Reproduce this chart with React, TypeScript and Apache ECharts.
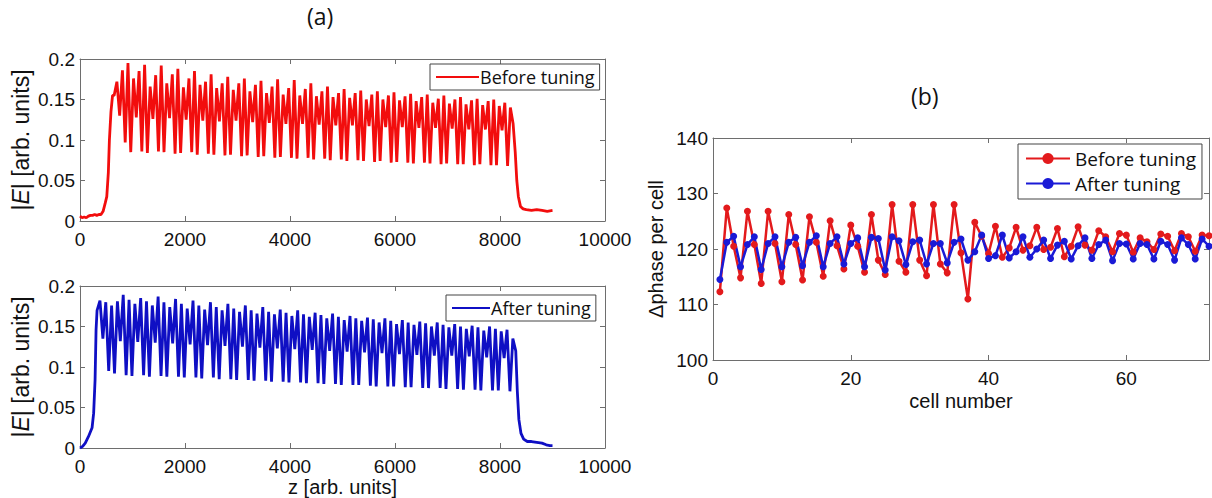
import React, { useEffect, useRef } from "react";
import * as echarts from "echarts";

// ---------- (b) phase advance per cell ----------
const cellNumbers = [
  1, 2, 3, 4, 5, 6, 7, 8, 9, 10, 11, 12, 13, 14, 15, 16, 17, 18, 19, 20, 21, 22, 23, 24,
  25, 26, 27, 28, 29, 30, 31, 32, 33, 34, 35, 36, 37, 38, 39, 40, 41, 42, 43, 44, 45, 46, 47, 48,
  49, 50, 51, 52, 53, 54, 55, 56, 57, 58, 59, 60, 61, 62, 63, 64, 65, 66, 67, 68, 69, 70, 71, 72,
];
const phaseBefore = [
  112.3, 127.4, 120.5, 114.8, 126.8, 120.8, 113.8, 126.8, 121.0, 114.1,
  126.2, 120.8, 114.4, 125.8, 121.2, 115.1, 125.1, 120.6, 116.4, 124.3,
  120.5, 115.8, 126.2, 118.0, 115.4, 128.0, 117.8, 115.8, 128.0, 118.0,
  115.2, 128.0, 117.3, 115.7, 128.0, 119.3, 111.0, 124.8, 122.3, 119.2,
  124.1, 118.5, 120.2, 123.9, 119.8, 120.6, 123.9, 119.9, 120.3, 123.7,
  118.6, 120.5, 124.0, 120.7, 119.8, 123.3, 122.2, 119.5, 122.8, 122.5,
  119.4, 122.0, 121.3, 119.9, 122.7, 122.3, 119.7, 122.8, 122.2, 119.6,
  122.5, 122.4,
];
const phaseAfter = [
  114.5, 121.2, 122.3, 116.8, 120.8, 122.2, 116.3, 121.0, 122.2, 116.8,
  121.2, 122.1, 117.0, 121.2, 122.4, 116.8, 121.0, 122.2, 117.3, 121.0,
  122.0, 116.8, 122.1, 121.9, 116.2, 122.2, 121.5, 117.2, 121.3, 121.6,
  117.3, 121.0, 121.0, 117.5, 121.2, 121.8, 118.0, 119.5, 122.5, 118.3,
  118.8, 122.5, 118.4, 119.5, 122.2, 118.5, 120.0, 121.6, 118.3, 120.7,
  121.4, 118.2, 120.6, 122.0, 118.3, 120.8, 121.6, 117.9, 121.0, 120.9,
  118.2, 121.0, 120.8, 118.2, 121.4, 120.8, 118.0, 122.0, 120.8, 118.2,
  121.8, 120.5,
];

// ---------- (a) field amplitude |E| along z ----------
// Before tuning
const redLeadZ = [0, 40, 80, 120, 160, 200, 240, 280, 320, 360, 400, 440, 480, 510, 540, 560, 590, 620];
const redLeadE = [0.006, 0.004, 0.005, 0.004, 0.006, 0.007, 0.007, 0.008, 0.007, 0.008, 0.008, 0.012, 0.022, 0.03, 0.06, 0.1, 0.135, 0.155];
const redCellStart = 650;
const redCellEnd = 8250;
const redPeaks = [
  0.172, 0.186, 0.195, 0.176, 0.185, 0.193, 0.166, 0.180, 0.192, 0.170,
  0.181, 0.188, 0.165, 0.176, 0.185, 0.168, 0.172, 0.181, 0.164, 0.170,
  0.178, 0.162, 0.170, 0.176, 0.160, 0.168, 0.173, 0.158, 0.166, 0.175,
  0.156, 0.164, 0.174, 0.155, 0.163, 0.170, 0.154, 0.160, 0.166, 0.153,
  0.158, 0.163, 0.152, 0.158, 0.161, 0.150, 0.156, 0.160, 0.150, 0.155,
  0.159, 0.149, 0.154, 0.157, 0.148, 0.153, 0.156, 0.146, 0.151, 0.155,
  0.145, 0.150, 0.153, 0.144, 0.149, 0.151, 0.143, 0.148, 0.150, 0.142,
  0.146, 0.140,
];
const redValleys = [
  0.155, 0.130, 0.097, 0.085, 0.128, 0.086, 0.084, 0.126, 0.086, 0.085,
  0.127, 0.083, 0.084, 0.125, 0.085, 0.082, 0.124, 0.083, 0.082, 0.123,
  0.081, 0.082, 0.124, 0.080, 0.081, 0.122, 0.079, 0.080, 0.121, 0.078,
  0.079, 0.120, 0.078, 0.077, 0.120, 0.078, 0.076, 0.119, 0.077, 0.075,
  0.118, 0.076, 0.074, 0.118, 0.075, 0.074, 0.117, 0.073, 0.074, 0.116,
  0.072, 0.073, 0.116, 0.072, 0.071, 0.115, 0.072, 0.071, 0.115, 0.070,
  0.071, 0.114, 0.070, 0.070, 0.113, 0.069, 0.070, 0.113, 0.069, 0.069,
  0.112, 0.068,
];
const redTailZ = [8250, 8290, 8320, 8350, 8390, 8440, 8500, 8600, 8700, 8800, 8900, 9000];
const redTailE = [0.12, 0.085, 0.05, 0.03, 0.018, 0.015, 0.014, 0.013, 0.014, 0.013, 0.012, 0.013];

// After tuning
const blueLeadZ = [0, 50, 100, 160, 230, 260, 287, 306];
const blueLeadE = [0.0, 0.002, 0.006, 0.014, 0.025, 0.043, 0.084, 0.146];
const blueCellStart = 325;
const blueCellEnd = 8300;
const bluePeaks = [
  0.182, 0.180, 0.176, 0.181, 0.189, 0.183, 0.178, 0.185, 0.181, 0.176,
  0.187, 0.180, 0.174, 0.184, 0.178, 0.172, 0.182, 0.176, 0.171, 0.180,
  0.174, 0.170, 0.178, 0.172, 0.168, 0.176, 0.170, 0.166, 0.174, 0.168,
  0.165, 0.171, 0.167, 0.163, 0.170, 0.165, 0.162, 0.167, 0.164, 0.160,
  0.166, 0.162, 0.158, 0.163, 0.160, 0.157, 0.161, 0.159, 0.155, 0.160,
  0.157, 0.153, 0.158, 0.155, 0.152, 0.156, 0.154, 0.150, 0.155, 0.152,
  0.149, 0.153, 0.150, 0.147, 0.151, 0.149, 0.145, 0.150, 0.147, 0.144,
  0.146, 0.135,
];
const blueValleys = [
  0.170, 0.135, 0.095, 0.092, 0.132, 0.090, 0.089, 0.131, 0.090, 0.088,
  0.130, 0.089, 0.088, 0.129, 0.088, 0.087, 0.128, 0.087, 0.086, 0.127,
  0.087, 0.085, 0.126, 0.085, 0.084, 0.125, 0.084, 0.083, 0.124, 0.083,
  0.082, 0.123, 0.082, 0.081, 0.122, 0.081, 0.080, 0.121, 0.080, 0.079,
  0.120, 0.079, 0.078, 0.119, 0.078, 0.078, 0.118, 0.077, 0.076, 0.117,
  0.076, 0.076, 0.116, 0.075, 0.075, 0.115, 0.074, 0.074, 0.114, 0.074,
  0.073, 0.114, 0.073, 0.072, 0.113, 0.072, 0.071, 0.112, 0.071, 0.071,
  0.111, 0.070,
];
const blueTailZ = [8300, 8330, 8360, 8400, 8450, 8520, 8600, 8700, 8800, 8880, 8950, 9000];
const blueTailE = [0.12, 0.07, 0.035, 0.018, 0.011, 0.008, 0.008, 0.007, 0.006, 0.004, 0.003, 0.003];

// tick settings
const zTicks = { min: 0, max: 10000, interval: 2000 };
const eTicks = { min: 0, max: 0.2, interval: 0.05 };
const cellTicks = { min: 0, max: 72, interval: 20 };
const phaseTicks = { min: 100, max: 140, interval: 10 };

function buildTrace(
  leadZ: number[], leadE: number[], start: number, end: number,
  valleys: number[], peaks: number[], tailZ: number[], tailE: number[]
) {
  const pts: number[][] = [];
  leadZ.forEach((z, i) => pts.push([z, leadE[i]]));
  const w = (end - start) / peaks.length;
  peaks.forEach((p, i) => {
    pts.push([start + i * w, valleys[i]]);
    pts.push([start + (i + 0.5) * w, p]);
  });
  tailZ.forEach((z, i) => pts.push([z, tailE[i]]));
  return pts;
}

const FRAME = "#6e6e6e";
const ARIAL = "'Liberation Sans', Arial, sans-serif";
const CAL = "'Open Sans', 'Noto Sans', sans-serif";
const RED = "#f20d0d";
const BLUE = "#0f0fc4";
const RED_B = "#e31a1c";
const BLUE_B = "#1a1ad6";

const plainNumber = (v: number) => String(v);

function mkX(gridIndex: number, t: any, position: "bottom" | "top", name?: string, nameGap?: number, showMax = true) {
  return {
    type: "value",
    gridIndex,
    min: t.min,
    max: t.max,
    interval: t.interval,
    position,
    axisLine: { show: true, onZero: false, lineStyle: { color: FRAME, width: 1 } },
    axisTick: { show: true, inside: true, length: 5, lineStyle: { color: FRAME } },
    axisLabel:
      position === "bottom"
        ? { show: true, margin: 9, color: "#111", fontSize: 19, fontFamily: ARIAL, showMaxLabel: showMax, formatter: plainNumber }
        : { show: false },
    splitLine: { show: false },
    name: name || "",
    nameLocation: "middle",
    nameGap: nameGap || 0,
    nameTextStyle: { color: "#111", fontSize: 20, fontFamily: ARIAL },
  };
}

function mkY(gridIndex: number, t: any, position: "left" | "right", name?: string, nameGap?: number, rich?: any, nameSize = 20) {
  return {
    type: "value",
    gridIndex,
    min: t.min,
    max: t.max,
    interval: t.interval,
    position,
    axisLine: { show: true, onZero: false, lineStyle: { color: FRAME, width: 1 } },
    axisTick: { show: true, inside: true, length: 5, lineStyle: { color: FRAME } },
    axisLabel:
      position === "left"
        ? { show: true, margin: 5, color: "#111", fontSize: 19, fontFamily: ARIAL, formatter: plainNumber }
        : { show: false },
    splitLine: { show: false },
    name: name || "",
    nameLocation: "middle",
    nameGap: nameGap || 0,
    nameTextStyle: { color: "#111", fontSize: nameSize, fontFamily: ARIAL, rich },
  };
}

export default function App() {
  const ref = useRef<HTMLDivElement>(null);
  useEffect(() => {
    if (!ref.current) return;
    const chart = echarts.init(ref.current, null, { renderer: "svg" });
    const redTrace = buildTrace(redLeadZ, redLeadE, redCellStart, redCellEnd, redValleys, redPeaks, redTailZ, redTailE);
    const blueTrace = buildTrace(blueLeadZ, blueLeadE, blueCellStart, blueCellEnd, blueValleys, bluePeaks, blueTailZ, blueTailE);
    const richE = {
      i: { fontStyle: "italic", fontSize: 23, fontFamily: ARIAL, color: "#111" },
      n: { fontSize: 23, fontFamily: ARIAL, color: "#111" },
    };
    const option: any = {
      animation: false,
      backgroundColor: "#ffffff",
      graphic: [
        { type: "text", left: 307, top: 4, style: { text: "(a)", fontSize: 23, fontFamily: CAL, fill: "#111" } },
        { type: "text", left: 911, top: 84, style: { text: "(b)", fontSize: 23, fontFamily: CAL, fill: "#111" } },
      ],
      grid: [
        { left: 80, top: 59, width: 525, height: 162, show: false },
        { left: 80, top: 286, width: 525, height: 162, show: false },
        { left: 713, top: 138, width: 496, height: 222, show: false },
      ],
      xAxis: [
        mkX(0, zTicks, "bottom"),
        mkX(0, zTicks, "top"),
        mkX(1, zTicks, "bottom", "z [arb. units]", 28),
        mkX(1, zTicks, "top"),
        mkX(2, cellTicks, "bottom", "cell number", 31, false),
        mkX(2, cellTicks, "top"),
      ],
      yAxis: [
        mkY(0, eTicks, "left", "{n||}{i|E}{n|| [arb. units]}", 48, richE, 23),
        mkY(0, eTicks, "right"),
        mkY(1, eTicks, "left", "{n||}{i|E}{n|| [arb. units]}", 48, richE, 23),
        mkY(1, eTicks, "right"),
        mkY(2, phaseTicks, "left", "Δphase per cell", 47),
        mkY(2, phaseTicks, "right"),
      ],
      legend: [
        {
          left: 430, top: 64, orient: "vertical",
          data: [{ name: "Before tuning (a)", icon: "rect" }],
          formatter: () => "Before tuning",
          itemWidth: 43, itemHeight: 2, itemGap: 0, padding: [4, 5, 4, 6],
          borderColor: "#444", borderWidth: 1, backgroundColor: "#fff",
          textStyle: { fontSize: 18, fontFamily: CAL, color: "#111", padding: [0, 0, 0, -4] },
          selectedMode: false,
        },
        {
          left: 446, top: 295, orient: "vertical",
          data: [{ name: "After tuning (a)", icon: "rect" }],
          formatter: () => "After tuning",
          itemWidth: 38, itemHeight: 2, itemGap: 0, padding: [4, 5, 4, 6],
          borderColor: "#444", borderWidth: 1, backgroundColor: "#fff",
          textStyle: { fontSize: 18, fontFamily: CAL, color: "#111", padding: [0, 0, 0, -4] },
          selectedMode: false,
        },
        {
          left: 1018, top: 144, orient: "vertical",
          data: ["Before tuning", "After tuning"],
          itemWidth: 44, itemHeight: 14, itemGap: 6, padding: [5, 6, 6, 7],
          borderColor: "#444", borderWidth: 1, backgroundColor: "#fff",
          textStyle: { fontSize: 19, fontFamily: CAL, color: "#111" },
          selectedMode: false,
        },
      ],
      series: [
        {
          name: "Before tuning (a)", type: "line", xAxisIndex: 0, yAxisIndex: 0,
          data: redTrace, symbol: "none", showSymbol: false,
          lineStyle: { color: RED, width: 2.8 }, itemStyle: { color: RED },
        },
        {
          name: "After tuning (a)", type: "line", xAxisIndex: 2, yAxisIndex: 2,
          data: blueTrace, symbol: "none", showSymbol: false,
          lineStyle: { color: BLUE, width: 2.8 }, itemStyle: { color: BLUE },
        },
        {
          name: "Before tuning", type: "line", xAxisIndex: 4, yAxisIndex: 4,
          data: cellNumbers.map((c, i) => [c, phaseBefore[i]]),
          symbol: "circle", symbolSize: 7, showSymbol: true,
          lineStyle: { color: RED_B, width: 2.5 }, itemStyle: { color: RED_B },
        },
        {
          name: "After tuning", type: "line", xAxisIndex: 4, yAxisIndex: 4,
          data: cellNumbers.map((c, i) => [c, phaseAfter[i]]),
          symbol: "circle", symbolSize: 7, showSymbol: true,
          lineStyle: { color: BLUE_B, width: 2.5 }, itemStyle: { color: BLUE_B },
        },
      ],
    };
    chart.setOption(option);
    return () => chart.dispose();
  }, []);
  return (
    <div
      ref={ref}
      style={{ position: "absolute", left: 0, top: 0, width: 1212, height: 498, background: "#fff" }}
    />
  );
}
